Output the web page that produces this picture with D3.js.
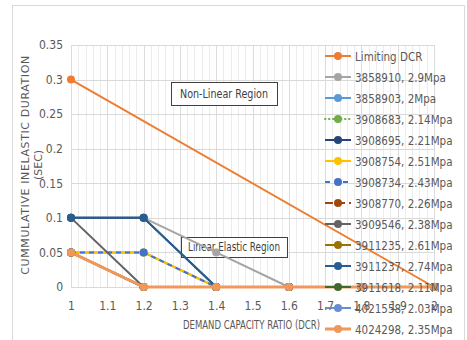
<!DOCTYPE html>
<html>
<head>
<meta charset="utf-8">
<script src="https://cdn.jsdelivr.net/npm/d3@7/dist/d3.min.js"></script>
<style>
  html, body { margin: 0; padding: 0; background: #fff; }
  svg { display: block; }
  .narrow { font-family: "Liberation Sans Narrow", "Arial Narrow", "DejaVu Sans Condensed", sans-serif; }
</style>
</head>
<body>
<svg id="chart" width="467" height="340"></svg>
<script>
// Demand capacity ratio sample points shared by the test records
const dcr = [1, 1.2, 1.4, 1.6, 1.8, 2];

// Limiting curve
const limitDcr = [1, 2];
const limitDur = [0.3, 0];

// Cumulative inelastic duration (sec) for each record, at the dcr points above
const dur3858910 = [0.1, 0.1, 0.05, 0, 0, 0];
const dur3858903 = [0.05, 0.05, 0, 0, 0, 0];
const dur3908683 = [0.05, 0, 0, 0, 0, 0];
const dur3908695 = [0.1, 0.1, 0, 0, 0, 0];
const dur3908754 = [0.05, 0.05, 0, 0, 0, 0];
const dur3908734 = [0.05, 0.05, 0, 0, 0, 0];
const dur3908770 = [0.05, 0, 0, 0, 0, 0];
const dur3909546 = [0.1, 0, 0, 0, 0, 0];
const dur3911235 = [0.05, 0, 0, 0, 0, 0];
const dur3911237 = [0.1, 0.1, 0, 0, 0, 0];
const dur3911618 = [0.05, 0, 0, 0, 0, 0];
const dur4021558 = [0.05, 0, 0, 0, 0, 0];
const dur4024298 = [0.05, 0, 0, 0, 0, 0];

const seriesNames = [
  "Limiting DCR", "3858910, 2.9Mpa", "3858903, 2Mpa", "3908683, 2.14Mpa",
  "3908695, 2.21Mpa", "3908754, 2.51Mpa", "3908734, 2.43Mpa", "3908770, 2.26Mpa",
  "3909546, 2.38Mpa", "3911235, 2.61Mpa", "3911237, 2.74Mpa", "3911618, 2.11Mpa",
  "4021558, 2.03Mpa", "4024298, 2.35Mpa"
];

const xTicks = [1, 1.1, 1.2, 1.3, 1.4, 1.5, 1.6, 1.7, 1.8, 1.9, 2];
const yTicks = [0, 0.05, 0.1, 0.15, 0.2, 0.25, 0.3, 0.35];

// Styling per series (colour, dash pattern, stroke width)
const styles = [
  { color: "#ED7D31", dash: null, w: 2 },
  { color: "#A5A5A5", dash: null, w: 2 },
  { color: "#5B9BD5", dash: null, w: 2 },
  { color: "#70AD47", dash: "0.5,3.5", w: 2, cap: "round" },
  { color: "#264478", dash: null, w: 2 },
  { color: "#FFC000", dash: null, w: 2 },
  { color: "#4472C4", dash: "5,4", w: 2 },
  { color: "#9E480E", dash: "8,4", w: 2 },
  { color: "#636363", dash: null, w: 2 },
  { color: "#997300", dash: null, w: 2 },
  { color: "#255E91", dash: null, w: 2 },
  { color: "#43682B", dash: null, w: 2 },
  { color: "#698ED0", dash: null, w: 2 },
  { color: "#F1975A", dash: null, w: 3 }
];

const seriesValues = [
  limitDur, dur3858910, dur3858903, dur3908683, dur3908695, dur3908754, dur3908734,
  dur3908770, dur3909546, dur3911235, dur3911237, dur3911618, dur4021558, dur4024298
];

const series = seriesNames.map((name, i) => {
  const xs = i === 0 ? limitDcr : dcr;
  return {
    name,
    style: styles[i],
    points: xs.map((x, j) => ({ x, y: seriesValues[i][j] }))
  };
});

const svg = d3.select("#chart");

// Outer chart frame
svg.append("rect")
  .attr("x", 12.5).attr("y", 5.5)
  .attr("width", 452).attr("height", 360)
  .attr("fill", "none").attr("stroke", "#d9d9d9");

const plot = { left: 71, right: 434, top: 45, bottom: 287 };

const x = d3.scaleLinear().domain([1, 2]).range([plot.left, plot.right]);
const y = d3.scaleLinear().domain([0, 0.35]).range([plot.bottom, plot.top]);

// Minor vertical gridlines every 0.02
const minor = d3.range(0, 51).map(i => 1 + i * 0.02);
svg.append("g").selectAll("line").data(minor).join("line")
  .attr("x1", d => Math.round(x(d)) + 0.5).attr("x2", d => Math.round(x(d)) + 0.5)
  .attr("y1", plot.top).attr("y2", plot.bottom)
  .attr("stroke", "#ececec").attr("stroke-width", 1);

// Major vertical gridlines
svg.append("g").selectAll("line").data(xTicks).join("line")
  .attr("x1", d => Math.round(x(d)) + 0.5).attr("x2", d => Math.round(x(d)) + 0.5)
  .attr("y1", plot.top).attr("y2", plot.bottom)
  .attr("stroke", "#dcdcdc").attr("stroke-width", 1);

// Horizontal gridlines
svg.append("g").selectAll("line").data(yTicks).join("line")
  .attr("x1", plot.left).attr("x2", plot.right)
  .attr("y1", d => Math.round(y(d)) + 0.5).attr("y2", d => Math.round(y(d)) + 0.5)
  .attr("stroke", "#d9d9d9").attr("stroke-width", 1);

// Axes (labels only)
const fmt = d => String(+d.toFixed(2));
const xAxis = d3.axisBottom(x).tickValues(xTicks).tickFormat(fmt).tickSize(0).tickPadding(14);
const gx = svg.append("g").attr("transform", `translate(0,${plot.bottom})`).call(xAxis);
gx.select(".domain").remove();
gx.selectAll("text").attr("class", "narrow").attr("font-size", 12).attr("fill", "#595959");

const yAxis = d3.axisLeft(y).tickValues(yTicks).tickFormat(fmt).tickSize(0).tickPadding(8);
const gy = svg.append("g").attr("transform", `translate(${plot.left},0)`).call(yAxis);
gy.select(".domain").remove();
gy.selectAll("text").attr("class", "narrow").attr("font-size", 12).attr("fill", "#595959");

// Region annotation boxes (behind the series)
function regionBox(x0, y0, w, h, label, len) {
  const g = svg.append("g");
  g.append("rect").attr("x", x0 + 0.5).attr("y", y0 + 0.5).attr("width", w).attr("height", h)
    .attr("fill", "#fff").attr("stroke", "#404040").attr("stroke-width", 1);
  g.append("text").attr("x", x0 + w / 2).attr("y", y0 + h / 2 + 4)
    .attr("text-anchor", "middle").attr("class", "narrow")
    .attr("font-size", 12).attr("fill", "#404040")
    .attr("textLength", len).attr("lengthAdjust", "spacingAndGlyphs")
    .text(label);
}
regionBox(171, 82, 106, 23, "Non-Linear Region", 88);
regionBox(181, 237, 106, 20, "Linear Elastic Region", 92);

// Series: each drawn with its line then its markers, in order
const line = d3.line().x(d => x(d.x)).y(d => y(d.y));
series.forEach(s => {
  const g = svg.append("g");
  g.append("path").attr("d", line(s.points))
    .attr("fill", "none").attr("stroke", s.style.color)
    .attr("stroke-width", s.style.w)
    .attr("stroke-dasharray", s.style.dash)
    .attr("stroke-linecap", s.style.cap || "butt")
    .attr("stroke-linejoin", "round");
  g.selectAll("circle").data(s.points).join("circle")
    .attr("cx", d => x(d.x)).attr("cy", d => y(d.y)).attr("r", 4)
    .attr("fill", s.style.color);
});

// Legend (no background, overlaps the right of the plot)
const legend = svg.append("g");
series.forEach((s, i) => {
  const ly = 56 + i * 21;
  const g = legend.append("g").attr("transform", `translate(0,${ly})`);
  g.append("line").attr("x1", 325).attr("x2", 351).attr("y1", 0).attr("y2", 0)
    .attr("stroke", s.style.color).attr("stroke-width", s.style.w)
    .attr("stroke-dasharray", s.style.dash)
    .attr("stroke-linecap", s.style.cap || "butt");
  g.append("circle").attr("cx", 338).attr("cy", 0).attr("r", 4).attr("fill", s.style.color);
  g.append("text").attr("x", 355).attr("y", 4.5).attr("class", "narrow")
    .attr("font-size", 11.5).attr("fill", "#595959").text(s.name);
});

// Axis titles
svg.append("text")
  .attr("x", 251.5).attr("y", 329)
  .attr("text-anchor", "middle").attr("class", "narrow")
  .attr("font-size", 12.5).attr("fill", "#595959")
  .attr("textLength", 137).attr("lengthAdjust", "spacingAndGlyphs")
  .text("DEMAND CAPACITY RATIO (DCR)");

const yTitle = svg.append("text")
  .attr("transform", "translate(29,165) rotate(-90)")
  .attr("text-anchor", "middle")
  .attr("font-family", "'DejaVu Sans', sans-serif")
  .attr("font-size", 11).attr("fill", "#595959");
yTitle.append("tspan").attr("x", 0).attr("dy", 0).attr("letter-spacing", 0.6).text("CUMMULATIVE INELASTIC DURATION");
yTitle.append("tspan").attr("x", 0).attr("dy", 13).text("(SEC)");
</script>
</body>
</html>
